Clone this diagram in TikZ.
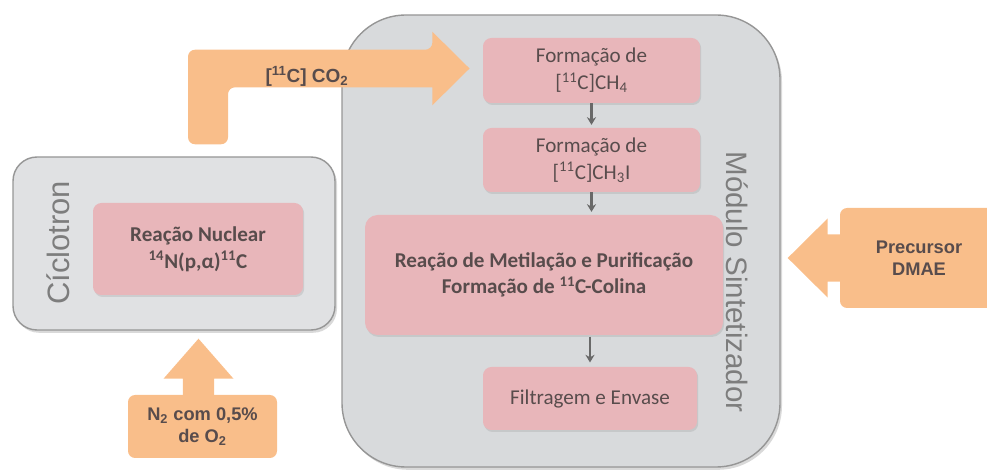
\documentclass[tikz,border=0pt]{standalone}
\usepackage{fontspec}
\setmainfont{Carlito}
\newfontfamily\arialfont{Liberation Sans}
\usetikzlibrary{calc,shadows,arrows.meta}

\definecolor{panelgray}{RGB}{216,218,220}
\definecolor{panelline}{RGB}{150,150,150}
\definecolor{steppink}{RGB}{232,182,186}
\definecolor{feedorange}{RGB}{249,190,138}
\definecolor{inktext}{RGB}{88,76,76}
\definecolor{titlegray}{RGB}{125,125,125}
\definecolor{flowgray}{RGB}{105,105,105}

\begin{document}
\begin{tikzpicture}[
    panel/.style={rectangle, draw=panelline, line width=1pt, fill=panelgray,
                  drop shadow={shadow xshift=0.05cm, shadow yshift=-0.07cm, opacity=0.3}},
    stage/.style={rectangle, fill=steppink, rounded corners=6pt, align=center,
                  text=inktext, font=\fontsize{15}{19}\selectfont,
                  drop shadow={shadow xshift=0.03cm, shadow yshift=-0.05cm, opacity=0.2}},
    feed/.style={rectangle, fill=feedorange, rounded corners=5pt, align=center,
                 text=inktext, font=\arialfont\bfseries\fontsize{13}{15.5}\selectfont},
    paneltitle/.style={text=titlegray, font=\arialfont\fontsize{21}{21}\selectfont},
    arr/.style={->, >={Stealth[length=5.5pt, width=6.5pt]}, flowgray, line width=1.5pt},
  ]
  \useasboundingbox (0,0) rectangle (24.675,11.775);

  % === Ciclotron (left) ===
  \node[panel, fill=panelgray!80!white, rounded corners=0.6cm, minimum width=8.05cm, minimum height=4.325cm] (cic) at (4.35, 5.6875) {};
  \node[paneltitle, rotate=90, font=\arialfont\fontsize{22}{22}\selectfont] (cictitle) at (1.45, 5.70) {Cíclotron};
  \node[stage, font=\bfseries\fontsize{15}{19}\selectfont, minimum width=5.25cm, minimum height=2.3cm] (nuc) at (4.95, 5.55)
    {Reação Nuclear\\\textsuperscript{14}N(p,α)\textsuperscript{11}C};

  % === Modulo Sintetizador (right) ===
  \node[panel, rounded corners=1.6cm, minimum width=10.95cm, minimum height=11.3cm] (mod) at (14.025, 5.75) {};
  \node[paneltitle, rotate=-90] (modtitle) at (18.425, 4.725) {Módulo Sintetizador};

  \node[stage, minimum width=5.425cm, minimum height=1.625cm] (ch4) at (14.7875, 10.0125)
    {Formação de\\{[}\textsuperscript{11}C]CH\textsubscript{4}};
  \node[stage, minimum width=5.425cm, minimum height=1.6cm] (ch3i) at (14.7875, 7.775)
    {Formação de\\{[}\textsuperscript{11}C]CH\textsubscript{3}I};
  \node[stage, font=\bfseries\fontsize{15}{19}\selectfont, rounded corners=9pt, minimum width=8.95cm, minimum height=3.0cm] (met) at (13.6, 4.9)
    {Reação de Metilação e Purificação\\Formação de \textsuperscript{11}C-Colina};
  \node[stage, minimum width=5.35cm, minimum height=1.575cm] (filt) at (14.75, 1.8125) {Filtragem e Envase};

  \draw[arr, shorten >=2pt] (ch4) -- (ch3i);
  \draw[arr, shorten >=2pt] (ch3i.south) -- (ch3i.south |- met.north);
  \draw[arr, shorten <=1pt, shorten >=3pt] (filt.north |- met.south) -- (filt.north);

  % === Feed arrows ===
  \coordinate (cotip) at ($(ch4.west)+(-0.33,0.05)$);
  \coordinate (cofoot) at ($(cic.north)+(0.85,0.3)$);
  \fill[feedorange] ($(cofoot)+(-0.5,0)$) [rounded corners=5pt] |- ($(cotip)+(-0.93,0.47)$)
    [sharp corners] -- ++(0,0.45) -- (cotip) -- ($(cotip)+(-0.93,-0.92)$) -- ++(0,0.45)
    [rounded corners=5pt] -| ($(cofoot)+(0.5,0)$) -- cycle;
  \node[text=inktext, font=\arialfont\bfseries\fontsize{13.5}{15}\selectfont] (colabel) at (7.675, 9.87)
    {[\textsuperscript{11}C] CO\textsubscript{2}};

  \node[feed, minimum width=3.725cm, minimum height=1.575cm] (gas) at (5.0625, 1.1125)
    {N\textsubscript{2} com 0,5\%\\de O\textsubscript{2}};
  \coordinate (gastip) at ($(gas.north |- cic.south)+(-0.1,-0.2)$);
  \fill[feedorange] (gastip) -- ++(0.875,-1.0) -- ++(-0.485,0) -- ++(0,-0.65)
    -- ++(-0.78,0) -- ++(0,0.65) -- ++(-0.485,0) -- cycle;

  \node[feed, minimum width=3.95cm, minimum height=2.5cm] (prec) at (22.975, 5.325) {Precursor\\DMAE};
  \coordinate (prectip) at ($(mod.east |- prec.west)+(0.175,0)$);
  \fill[feedorange] (prectip) -- ++(1.0,0.99) -- ++(0,-0.4) -- ++(0.6,0)
    -- ++(0,-1.18) -- ++(-0.6,0) -- ++(0,-0.4) -- cycle;

\end{tikzpicture}
\end{document}
